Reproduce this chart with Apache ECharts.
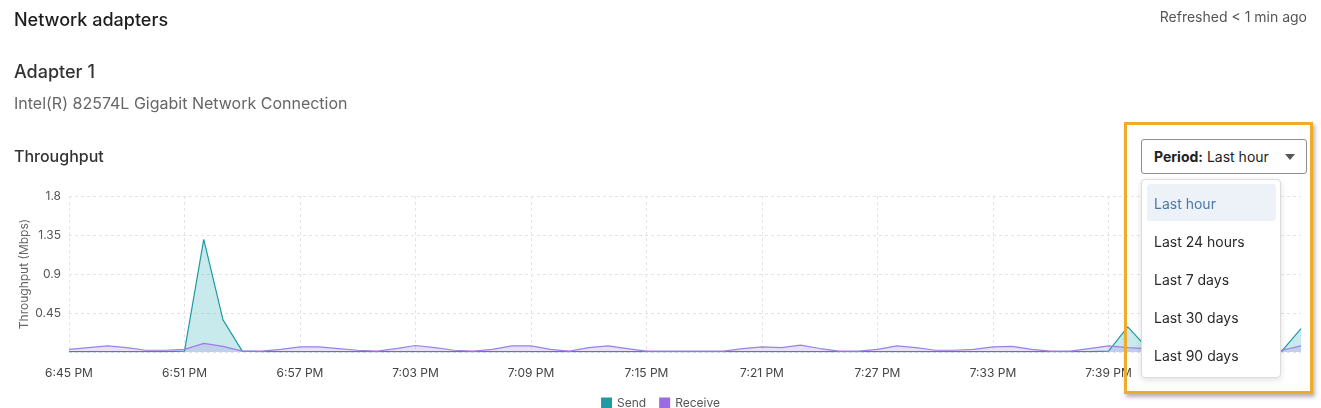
<!DOCTYPE html>
<html>
<head>
<meta charset="utf-8">
<script src="https://cdn.jsdelivr.net/npm/echarts@6/dist/echarts.min.js"></script>
<style>
  html, body { margin:0; padding:0; background:#fff; width:1321px; height:408px; overflow:hidden; font-family: Inter, "Noto Sans", sans-serif; }
  #chart { position:absolute; left:0; top:0; width:1321px; height:408px; }
  .t { position:absolute; white-space:nowrap; line-height:1; }
  #btn { position:absolute; left:1141px; top:139px; width:166px; height:35px; border:1px solid #8e8e8e; border-radius:3px; background:#fff; box-sizing:border-box; }
  #btn .lbl { position:absolute; left:12px; top:10px; font-size:14px; line-height:1; color:#222; }
  #caret { position:absolute; left:143px; top:14px; width:0; height:0; border-left:5px solid transparent; border-right:5px solid transparent; border-top:6px solid #555; }
  #menu { position:absolute; left:1141px; top:179px; width:140px; height:199px; border:1px solid #dcdcdc; border-radius:4px; background:#fff; box-sizing:border-box; box-shadow:0 2px 6px rgba(0,0,0,0.12); }
  #hl { position:absolute; left:5px; top:4px; width:129px; height:37px; background:#edf2f8; border-radius:3px; }
  .item { position:absolute; left:12px; font-size:14px; line-height:1; color:#2a2a2a; }
  #box { position:absolute; left:1124px; top:122px; width:189px; height:272px; border:3px solid #efab2a; box-sizing:border-box; box-shadow:2px 3px 4px rgba(0,0,0,0.3); }
</style>
</head>
<body>
<div id="chart"></div>
<div class="t" style="left:14px;top:11px;font-size:18px;font-weight:500;color:#1d1d1d;">Network adapters</div>
<div class="t" style="right:14px;top:10px;font-size:14px;color:#555;">Refreshed &lt; 1 min ago</div>
<div class="t" style="left:14px;top:63px;font-size:18px;font-weight:500;color:#333;">Adapter 1</div>
<div class="t" style="left:14px;top:95px;font-size:16px;color:#666;">Intel(R) 82574L Gigabit Network Connection</div>
<div class="t" style="left:14px;top:148px;font-size:16px;font-weight:500;color:#333;">Throughput</div>

<div id="btn"><span class="lbl"><b>Period:</b> Last hour</span><div id="caret"></div></div>
<div id="menu">
  <div id="hl"></div>
  <div class="item" style="top:17px;color:#4a78a8;">Last hour</div>
  <div class="item" style="top:55px;">Last 24 hours</div>
  <div class="item" style="top:93px;">Last 7 days</div>
  <div class="item" style="top:131px;">Last 30 days</div>
  <div class="item" style="top:169px;">Last 90 days</div>
</div>
<div id="box"></div>

<script>
const times = [
 "6:45 PM","6:46 PM","6:47 PM","6:48 PM","6:49 PM","6:50 PM","6:51 PM","6:52 PM","6:53 PM","6:54 PM",
 "6:55 PM","6:56 PM","6:57 PM","6:58 PM","6:59 PM","7:00 PM","7:01 PM","7:02 PM","7:03 PM","7:04 PM",
 "7:05 PM","7:06 PM","7:07 PM","7:08 PM","7:09 PM","7:10 PM","7:11 PM","7:12 PM","7:13 PM","7:14 PM",
 "7:15 PM","7:16 PM","7:17 PM","7:18 PM","7:19 PM","7:20 PM","7:21 PM","7:22 PM","7:23 PM","7:24 PM",
 "7:25 PM","7:26 PM","7:27 PM","7:28 PM","7:29 PM","7:30 PM","7:31 PM","7:32 PM","7:33 PM","7:34 PM",
 "7:35 PM","7:36 PM","7:37 PM","7:38 PM","7:39 PM","7:40 PM","7:41 PM","7:42 PM","7:43 PM","7:44 PM",
 "7:45 PM","7:46 PM","7:47 PM","7:48 PM","7:49 PM"
];
const sendMbps = [
 0.005,0.005,0.005,0.005,0.005,0.005,0.01,1.30,0.37,0.01,
 0.005,0.005,0.005,0.005,0.005,0.005,0.005,0.005,0.005,0.005,
 0.005,0.005,0.005,0.005,0.005,0.005,0.005,0.005,0.005,0.005,
 0.005,0.005,0.005,0.005,0.005,0.005,0.005,0.005,0.005,0.005,
 0.005,0.005,0.005,0.005,0.005,0.005,0.005,0.005,0.005,0.005,
 0.005,0.005,0.005,0.005,0.01,0.29,0.05,0.005,0.005,0.005,
 0.005,0.005,0.005,0.01,0.27
];
const receiveMbps = [
 0.03,0.05,0.07,0.05,0.02,0.02,0.03,0.10,0.065,0.01,
 0.01,0.03,0.06,0.06,0.04,0.02,0.01,0.04,0.075,0.05,
 0.02,0.01,0.03,0.07,0.07,0.03,0.01,0.05,0.07,0.04,
 0.01,0.01,0.01,0.01,0.01,0.04,0.06,0.05,0.08,0.04,
 0.01,0.01,0.03,0.07,0.05,0.02,0.02,0.03,0.06,0.065,
 0.03,0.01,0.01,0.04,0.07,0.05,0.04,0.03,0.02,0.03,
 0.05,0.03,0.02,0.02,0.07
];
const yTicks = { min: 0, max: 1.8, interval: 0.45 };
const seriesNames = ["Send", "Receive"];

const chart = echarts.init(document.getElementById('chart'), null, { renderer: 'canvas' });
const sendColor = '#1e9aa5';
const recvColor = '#9a6be3';
chart.setOption({
  animation: false,
  textStyle: { fontFamily: 'Inter, "Noto Sans", sans-serif' },
  grid: { left: 69, right: 20, top: 196, bottom: 56 },
  legend: {
    bottom: -6, left: 'center', itemWidth: 11, itemHeight: 11, itemGap: 13,
    icon: 'rect', data: seriesNames,
    textStyle: { fontSize: 12, color: '#555' }
  },
  xAxis: {
    type: 'category', data: times, boundaryGap: false,
    axisLine: { show: false }, axisTick: { show: false },
    axisLabel: { interval: 5, color: '#444', fontSize: 12, margin: 15 },
    splitLine: { show: true, interval: 5, lineStyle: { type: [3, 3], color: '#e4e4e4' } }
  },
  yAxis: {
    type: 'value', min: yTicks.min, max: yTicks.max, interval: yTicks.interval,
    name: 'Throughput (Mbps)', nameLocation: 'middle', nameGap: 39, nameMoveOverlap: false,
    nameTextStyle: { fontSize: 12, color: '#666' },
    axisLine: { show: false }, axisTick: { show: false },
    axisLabel: { color: '#555', fontSize: 12, margin: 8, showMinLabel: false,
      formatter: v => v === 0 ? '' : String(+v.toFixed(2)) },
    splitLine: { lineStyle: { type: [3, 3], color: '#e4e4e4' } }
  },
  series: [
    { name: seriesNames[0], type: 'line', data: sendMbps, showSymbol: false, symbol: 'none',
      itemStyle: { color: sendColor },
      lineStyle: { color: sendColor, width: 1.2 },
      areaStyle: { color: 'rgba(40,170,180,0.36)' } },
    { name: seriesNames[1], type: 'line', data: receiveMbps, showSymbol: false, symbol: 'none',
      itemStyle: { color: recvColor },
      lineStyle: { color: '#a27ee6', width: 1.2 },
      areaStyle: { color: 'rgba(155,115,232,0.32)' } }
  ]
});
</script>
</body>
</html>
